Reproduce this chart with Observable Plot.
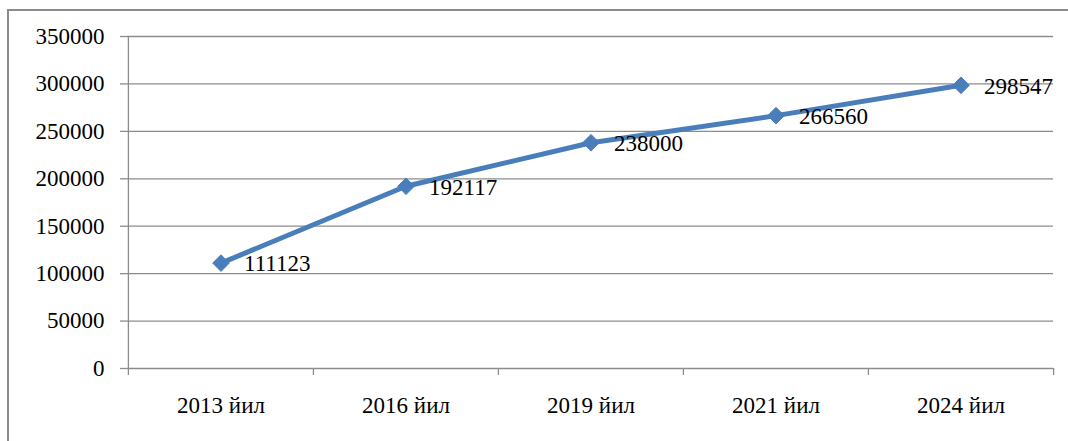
<!DOCTYPE html>
<html>
<head>
<meta charset="utf-8">
<script src="https://cdn.jsdelivr.net/npm/d3@7"></script>
<script src="https://cdn.jsdelivr.net/npm/@observablehq/plot@0.6"></script>
<style>
  html, body { margin: 0; padding: 0; background: #fff; overflow: hidden; }
  #wrap { position: relative; width: 1068px; height: 441px; }
  #border { position: absolute; left: 7px; top: 9px; width: 1100px; height: 500px; border: 2px solid #8c8c8c; box-sizing: border-box; pointer-events: none; }
</style>
</head>
<body>
<div id="wrap"><div id="border"></div></div>
<script>
const years = ["2013 йил", "2016 йил", "2019 йил", "2021 йил", "2024 йил"];
const values = [111123, 192117, 238000, 266560, 298547];
const yTicks = [0, 50000, 100000, 150000, 200000, 250000, 300000, 350000];

const data = years.map((y, i) => ({year: y, value: values[i]}));

const W = 1068, H = 441, ML = 127, MR = 15, MT = 36, MB = 73;
const bw = (W - ML - MR) / years.length;
const grey = "#8c8c8c";
const blue = "#4a7ebb";
const serif = "'Liberation Serif', 'Times New Roman', serif";

const chart = Plot.plot({
  width: W,
  height: H,
  marginLeft: ML,
  marginRight: MR,
  marginTop: MT,
  marginBottom: MB,
  style: {fontFamily: serif, fontSize: "23px", color: "black", background: "transparent"},
  x: {type: "band", domain: years, padding: 0},
  y: {domain: [0, 350000]},
  marks: [
    Plot.gridY(yTicks, {stroke: grey, strokeOpacity: 1, strokeWidth: 1.3}),
    Plot.axisY(yTicks, {tickSize: 7, tickPadding: 16, stroke: grey, strokeWidth: 1.3, fill: "black", tickFormat: d => String(d), label: null}),
    Plot.axisX({tickSize: 0, tickPadding: 28, fill: "black", label: null}),
    // vertical axis line
    Plot.ruleX([years[0]], {dx: -bw / 2, stroke: grey, strokeWidth: 1.3, insetBottom: -7}),
    // category boundary ticks
    Plot.ruleX(years.slice(1), {y1: 0, y2: 0, dx: -bw / 2, stroke: grey, strokeWidth: 1.3, insetBottom: -7}),
    Plot.ruleX([years[years.length - 1]], {y1: 0, y2: 0, dx: bw / 2, stroke: grey, strokeWidth: 1.3, insetBottom: -7}),
    Plot.line(data, {x: "year", y: "value", stroke: blue, strokeWidth: 5}),
    Plot.dot(data, {x: "year", y: "value", symbol: "diamond2", r: 7.5, fill: blue, stroke: blue, strokeWidth: 1}),
    Plot.text(data, {x: "year", y: "value", text: d => String(d.value), dx: 23, dy: 1, textAnchor: "start", fill: "black", fontSize: 23})
  ]
});
document.getElementById("wrap").prepend(chart);
</script>
</body>
</html>
